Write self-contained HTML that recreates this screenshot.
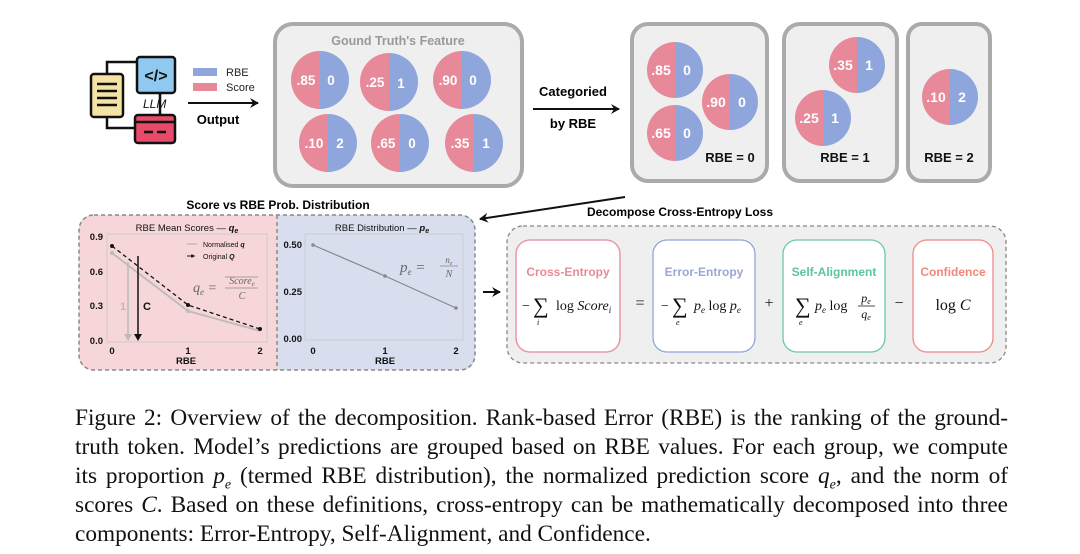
<!DOCTYPE html>
<html><head><meta charset="utf-8"><style>
body{margin:0;background:#fff;width:1080px;height:554px;overflow:hidden;position:relative;font-family:"Liberation Sans",sans-serif}
svg{position:absolute;left:0;top:0}
.cap{position:absolute;left:75px;width:933px;font-family:"Liberation Serif",serif;font-size:23.3px;line-height:29px;text-align:justify;text-align-last:justify;white-space:nowrap;color:#111}
.cap.last{text-align-last:left}
i{font-style:italic}
</style></head><body>
<svg width="1080" height="554" viewBox="0 0 1080 554" font-family="Liberation Sans, sans-serif">
<defs>
<marker id="ah" markerWidth="10" markerHeight="10" refX="8" refY="5" orient="auto" markerUnits="userSpaceOnUse"><path d="M0,0 L9,5 L0,10 L3,5 z" fill="#111"/></marker>
<g id="pie"><path d="M0,-29 A29,29 0 0 0 0,29 Z" fill="#e8899a"/><path d="M0,-29 A29,29 0 0 1 0,29 Z" fill="#8ea6dc"/></g>
<g id="pieB"><path d="M0,-28 A28,28 0 0 0 0,28 Z" fill="#e8899a"/><path d="M0,-28 A28,28 0 0 1 0,28 Z" fill="#8ea6dc"/></g>
</defs>
<!-- LLM icon -->
<path d="M107,73 V62 H137 M107,117 V128 H135 M160,93 V115" stroke="#111" stroke-width="2.5" fill="none"/>
<rect x="91" y="74" width="32" height="43" rx="3" fill="#f5e3a6" stroke="#111" stroke-width="2.5"/>
<path d="M97,84h20M97,91h20M97,98h20M97,105h20" stroke="#111" stroke-width="2.5"/>
<rect x="137" y="57" width="38" height="36" rx="3" fill="#8fc9ef" stroke="#111" stroke-width="2.5"/>
<text x="156" y="81" font-size="16" font-weight="bold" text-anchor="middle" fill="#111">&lt;/&gt;</text>
<rect x="135" y="115" width="40" height="28" rx="3" fill="#e84a6b" stroke="#111" stroke-width="2.5"/>
<path d="M135,122h40M144,132h9M157,132h9" stroke="#111" stroke-width="2.5"/>
<text x="143" y="108" font-size="12" font-style="italic" fill="#111">LLM</text>
<!-- legend -->
<rect x="193" y="68" width="24" height="8" fill="#8ea6dc"/><text x="226" y="76" font-size="11" fill="#222">RBE</text>
<rect x="193" y="83" width="24" height="8" fill="#e8899a"/><text x="226" y="91" font-size="11" fill="#222">Score</text>
<line x1="188" y1="103" x2="258" y2="103" stroke="#111" stroke-width="2" marker-end="url(#ah)"/>
<text x="218" y="124" font-size="13" font-weight="bold" text-anchor="middle">Output</text>
<!-- main box -->
<rect x="275" y="24" width="247" height="162" rx="18" fill="#efefef" stroke="#aaa" stroke-width="4"/>
<text x="398" y="45" font-size="12.5" font-weight="bold" fill="#999" text-anchor="middle">Gound Truth's Feature</text>
<g font-size="13.5" font-weight="bold" fill="#fff">
<use href="#pie" x="320" y="80"/><text x="306" y="85" text-anchor="middle">.85</text><text x="331" y="85" text-anchor="middle">0</text>
<use href="#pie" x="389" y="82"/><text x="375" y="87" text-anchor="middle">.25</text><text x="401" y="88" text-anchor="middle">1</text>
<use href="#pie" x="462" y="80"/><text x="448" y="85" text-anchor="middle">.90</text><text x="473" y="85" text-anchor="middle">0</text>
<use href="#pie" x="328" y="143"/><text x="314" y="148" text-anchor="middle">.10</text><text x="340" y="148" text-anchor="middle">2</text>
<use href="#pie" x="400" y="143"/><text x="386" y="148" text-anchor="middle">.65</text><text x="412" y="148" text-anchor="middle">0</text>
<use href="#pie" x="474" y="143"/><text x="460" y="148" text-anchor="middle">.35</text><text x="486" y="148" text-anchor="middle">1</text>
</g>
<text x="573" y="96" font-size="13" font-weight="bold" text-anchor="middle">Categoried</text>
<line x1="533" y1="109" x2="619" y2="109" stroke="#111" stroke-width="2" marker-end="url(#ah)"/>
<text x="573" y="128" font-size="13" font-weight="bold" text-anchor="middle">by RBE</text>
<!-- right boxes -->
<rect x="632" y="24" width="135" height="157" rx="16" fill="#efefef" stroke="#aaa" stroke-width="4"/>
<rect x="784" y="24" width="113" height="157" rx="16" fill="#efefef" stroke="#aaa" stroke-width="4"/>
<rect x="908" y="24" width="82" height="157" rx="14" fill="#efefef" stroke="#aaa" stroke-width="4"/>
<g font-size="14" font-weight="bold" fill="#fff">
<use href="#pieB" x="675" y="70"/><text x="661" y="75" text-anchor="middle">.85</text><text x="687" y="75" text-anchor="middle">0</text>
<use href="#pieB" x="730" y="102"/><text x="716" y="107" text-anchor="middle">.90</text><text x="742" y="107" text-anchor="middle">0</text>
<use href="#pieB" x="675" y="133"/><text x="661" y="138" text-anchor="middle">.65</text><text x="687" y="138" text-anchor="middle">0</text>
<use href="#pieB" x="857" y="65"/><text x="843" y="70" text-anchor="middle">.35</text><text x="869" y="70" text-anchor="middle">1</text>
<use href="#pieB" x="823" y="118"/><text x="809" y="123" text-anchor="middle">.25</text><text x="835" y="123" text-anchor="middle">1</text>
<use href="#pieB" x="950" y="97"/><text x="936" y="102" text-anchor="middle">.10</text><text x="962" y="102" text-anchor="middle">2</text>
</g>
<g font-size="13" font-weight="bold" fill="#111" text-anchor="middle">
<text x="730" y="162">RBE = 0</text><text x="845" y="162">RBE = 1</text><text x="949" y="162">RBE = 2</text>
</g>
<line x1="625" y1="197" x2="480" y2="219" stroke="#111" stroke-width="2" marker-end="url(#ah)"/>
<!-- left chart panel -->
<text x="278" y="209" font-size="12" font-weight="bold" text-anchor="middle">Score vs RBE Prob. Distribution</text>
<path d="M277,215 H94 Q79,215 79,230 V355 Q79,370 94,370 H277 Z" fill="#f7d6d9"/>
<path d="M277,215 H460 Q475,215 475,230 V355 Q475,370 460,370 H277 Z" fill="#d9deef"/>
<rect x="79" y="215" width="396" height="155" rx="15" fill="none" stroke="#888" stroke-width="1.5" stroke-dasharray="4,3"/>
<line x1="277" y1="215" x2="277" y2="370" stroke="#888" stroke-width="1.5" stroke-dasharray="4,3"/>
<g font-size="9.5" fill="#111">
<text x="187" y="231" text-anchor="middle">RBE Mean Scores — <tspan font-weight="bold" font-style="italic">q<tspan font-size="7" dy="2">e</tspan></tspan></text>
<rect x="107" y="234" width="160" height="108" fill="none" stroke="#ccc"/>
<text x="103" y="240" text-anchor="end" font-weight="bold">0.9</text>
<text x="103" y="275" text-anchor="end" font-weight="bold">0.6</text>
<text x="103" y="309" text-anchor="end" font-weight="bold">0.3</text>
<text x="103" y="344" text-anchor="end" font-weight="bold">0.0</text>
<text x="112" y="354" text-anchor="middle" font-weight="bold">0</text>
<text x="188" y="354" text-anchor="middle" font-weight="bold">1</text>
<text x="260" y="354" text-anchor="middle" font-weight="bold">2</text>
<text x="186" y="364" text-anchor="middle" font-weight="bold">RBE</text>
<polyline points="112,253 188,311 260,331" fill="none" stroke="#bbb" stroke-width="1.8"/>
<polyline points="112,246 188,305 260,329" fill="none" stroke="#111" stroke-width="1.3" stroke-dasharray="4,3"/>
<circle cx="112" cy="246" r="2" fill="#111"/><circle cx="188" cy="305" r="2" fill="#111"/><circle cx="260" cy="329" r="2" fill="#111"/>
<circle cx="112" cy="253" r="2" fill="#bbb"/><circle cx="188" cy="311" r="2" fill="#bbb"/>
<line x1="187" y1="244" x2="197" y2="244" stroke="#aaa"/><text x="203" y="247" font-size="7">Normalised <tspan font-weight="bold" font-style="italic">q</tspan></text>
<line x1="187" y1="256" x2="197" y2="256" stroke="#111" stroke-dasharray="3,2"/><circle cx="192" cy="256" r="1.5"/><text x="203" y="259" font-size="7">Original <tspan font-weight="bold" font-style="italic">Q</tspan></text>
<line x1="128" y1="262" x2="128" y2="336" stroke="#bbb" stroke-width="1.5"/>
<path d="M124,334 L128,341 L132,334 z" fill="#bbb"/>
<line x1="138" y1="256" x2="138" y2="336" stroke="#111" stroke-width="1.5"/>
<path d="M134,334 L138,341 L142,334 z" fill="#111"/>
<text x="120" y="310" font-size="11" font-weight="bold" fill="#bbb">1</text>
<text x="143" y="310" font-size="11" font-weight="bold">C</text>
<text x="193" y="292" font-size="14" font-family="Liberation Serif, serif" font-style="italic" fill="#666">q<tspan font-size="9" dy="3">e</tspan><tspan dy="-3"> = </tspan></text>
<text x="242" y="284" font-size="10" font-family="Liberation Serif, serif" font-style="italic" fill="#666" text-anchor="middle">Score<tspan font-size="7" dy="2">e</tspan></text>
<line x1="225" y1="288" x2="258" y2="288" stroke="#888" stroke-width="0.8"/>
<line x1="225" y1="277" x2="258" y2="277" stroke="#888" stroke-width="0.8"/>
<text x="242" y="299" font-size="10" font-family="Liberation Serif, serif" font-style="italic" fill="#666" text-anchor="middle">C</text>
<!-- right plot -->
<text x="382" y="231" text-anchor="middle">RBE Distribution — <tspan font-weight="bold" font-style="italic">p<tspan font-size="7" dy="2">e</tspan></tspan></text>
<rect x="305" y="234" width="158" height="106" fill="none" stroke="#ccc"/>
<text x="302" y="248" text-anchor="end" font-weight="bold">0.50</text>
<text x="302" y="295" text-anchor="end" font-weight="bold">0.25</text>
<text x="302" y="342" text-anchor="end" font-weight="bold">0.00</text>
<text x="313" y="354" text-anchor="middle" font-weight="bold">0</text>
<text x="385" y="354" text-anchor="middle" font-weight="bold">1</text>
<text x="456" y="354" text-anchor="middle" font-weight="bold">2</text>
<text x="385" y="364" text-anchor="middle" font-weight="bold">RBE</text>
<polyline points="313,245 385,276 456,308" fill="none" stroke="#888" stroke-width="1.2"/>
<circle cx="313" cy="245" r="1.8" fill="#888"/><circle cx="385" cy="276" r="1.8" fill="#888"/><circle cx="456" cy="308" r="1.8" fill="#888"/>
<text x="400" y="272" font-size="15" font-family="Liberation Serif, serif" font-style="italic" fill="#666">p<tspan font-size="9" dy="3">e</tspan><tspan dy="-3"> = </tspan></text>
<text x="449" y="263" font-size="9" font-family="Liberation Serif, serif" font-style="italic" fill="#666" text-anchor="middle">n<tspan font-size="6" dy="2">e</tspan></text>
<line x1="440" y1="266" x2="458" y2="266" stroke="#888" stroke-width="0.8"/>
<text x="449" y="277" font-size="10" font-family="Liberation Serif, serif" font-style="italic" fill="#666" text-anchor="middle">N</text>
</g>
<line x1="483" y1="292" x2="500" y2="292" stroke="#111" stroke-width="2" marker-end="url(#ah)"/>
<!-- decompose -->
<text x="680" y="216" font-size="12" font-weight="bold" text-anchor="middle">Decompose Cross-Entropy Loss</text>
<rect x="507" y="226" width="499" height="137" rx="16" fill="#efefef" stroke="#888" stroke-width="1.3" stroke-dasharray="4,3"/>
<rect x="516" y="240" width="104" height="112" rx="14" fill="#fff" stroke="#e8899a" stroke-width="1.3"/>
<rect x="653" y="240" width="102" height="112" rx="14" fill="#fff" stroke="#8ea6dc" stroke-width="1.3"/>
<rect x="783" y="240" width="102" height="112" rx="14" fill="#fff" stroke="#6cc9a0" stroke-width="1.3"/>
<rect x="913" y="240" width="80" height="112" rx="14" fill="#fff" stroke="#ee8a88" stroke-width="1.3"/>
<g font-size="12" font-weight="bold" text-anchor="middle">
<text x="568" y="276" fill="#e98a98">Cross-Entropy</text>
<text x="704" y="276" fill="#9aa6d6">Error-Entropy</text>
<text x="834" y="276" fill="#5cc69a">Self-Alignment</text>
<text x="953" y="276" fill="#f2867a">Confidence</text>
</g>
<g font-family="Liberation Serif, serif" font-size="14" fill="#111">
<text x="522" y="310">−</text><text x="533" y="313" font-size="22">∑</text><text x="537" y="325" font-size="8" font-style="italic">i</text>
<text x="556" y="310">log <tspan font-style="italic">Score<tspan font-size="9" dy="3">i</tspan></tspan></text>
<text x="640" y="308" font-size="16" text-anchor="middle">=</text>
<text x="661" y="310">−</text><text x="672" y="313" font-size="22">∑</text><text x="676" y="325" font-size="8" font-style="italic">e</text>
<text x="694" y="310"><tspan font-style="italic">p<tspan font-size="9" dy="3">e</tspan></tspan><tspan dy="-3"> log </tspan><tspan font-style="italic">p<tspan font-size="9" dy="3">e</tspan></tspan></text>
<text x="769" y="308" font-size="16" text-anchor="middle">+</text>
<text x="795" y="313" font-size="22">∑</text><text x="799" y="325" font-size="8" font-style="italic">e</text>
<text x="815" y="310"><tspan font-style="italic">p<tspan font-size="9" dy="3">e</tspan></tspan><tspan dy="-3"> log</tspan></text>
<text x="866" y="302" font-size="12" font-style="italic" text-anchor="middle">p<tspan font-size="8" dy="2">e</tspan></text>
<line x1="858" y1="306" x2="875" y2="306" stroke="#111" stroke-width="0.8"/>
<text x="866" y="318" font-size="12" font-style="italic" text-anchor="middle">q<tspan font-size="8" dy="2">e</tspan></text>
<text x="899" y="308" font-size="16" text-anchor="middle">−</text>
<text x="953" y="310" font-size="16" text-anchor="middle">log <tspan font-style="italic">C</tspan></text>
</g>
</svg>
<div class="cap" style="top:404px">Figure 2: Overview of the decomposition. Rank-based Error (RBE) is the ranking of the ground-</div>
<div class="cap" style="top:433px">truth token. Model’s predictions are grouped based on RBE values. For each group, we compute</div>
<div class="cap" style="top:462px">its proportion <i>p<sub style="font-size:14px">e</sub></i> (termed RBE distribution), the normalized prediction score <i>q<sub style="font-size:14px">e</sub></i>, and the norm of</div>
<div class="cap" style="top:491px">scores <i>C</i>. Based on these definitions, cross-entropy can be mathematically decomposed into three</div>
<div class="cap last" style="top:520px">components: Error-Entropy, Self-Alignment, and Confidence.</div>
</body></html>
